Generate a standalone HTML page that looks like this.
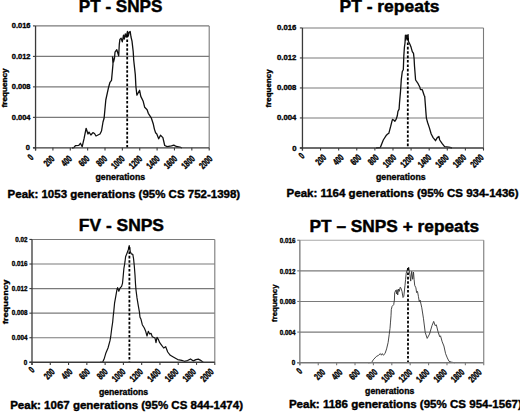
<!DOCTYPE html>
<html><head><meta charset="utf-8"><title>Histograms</title>
<style>
html,body{margin:0;padding:0;background:#fff;}
body{width:520px;height:412px;overflow:hidden;}
svg{display:block;font-family:"Liberation Sans", sans-serif;}
</style></head>
<body>
<svg width="520" height="412" viewBox="0 0 520 412" fill="#000">
<rect width="520" height="412" fill="#fff"/>
<line x1="35.55" y1="117.36" x2="209.2" y2="117.36" stroke="#7a7a7a" stroke-width="1.1"/>
<line x1="35.55" y1="86.88" x2="209.2" y2="86.88" stroke="#7a7a7a" stroke-width="1.1"/>
<line x1="35.55" y1="56.39" x2="209.2" y2="56.39" stroke="#7a7a7a" stroke-width="1.1"/>
<line x1="35.55" y1="25.9" x2="209.2" y2="25.9" stroke="#7a7a7a" stroke-width="1.1"/>
<line x1="209.2" y1="25.9" x2="209.2" y2="147.85" stroke="#7a7a7a" stroke-width="1.1"/>
<polyline points="72,148 74,147.5 75.4,145.7 78.8,145.4 80.4,143.3 82.2,146.7 84.1,138.4 86.1,128.3 88,134 89,132.1 90.9,135 92.9,132.6 94.5,133.5 96,136 98,135 100,134 101.5,131 103,122 104.1,118.2 105.8,100 108.6,87.2 110,82.3 111.5,80.4 112.3,71.7 113,63.9 112.5,57 113.5,62 114.5,58 115,52.2 116.8,49.7 118.7,55.8 119.3,44.3 119.9,39.4 121.1,38.2 122.3,41.8 123.5,35.2 124.3,39 125.3,34 126.2,37 127.5,31.5 128.3,36 129.2,32 130.2,31.5 131,37 132,41.2 133.2,51.5 133.7,60 135.3,74.6 135.9,86.5 136.9,95.2 139.6,90.3 140.8,96.4 143.2,101.3 144.7,107.3 147.1,109.7 148.3,113.3 151.4,118.2 153.2,123.7 154.4,129.1 155.6,132.8 156.8,134 158.7,138.8 160.5,135.2 162.9,137.6 164.7,145.5 167.2,146.7 171.4,145.8 173.8,145.1 176.3,146.5 179.9,147.1 182,148" fill="none" stroke="#111" stroke-width="1.3" stroke-linejoin="round"/>
<line x1="127.2" y1="35" x2="127.2" y2="147.85" stroke="#000" stroke-width="1.8" stroke-dasharray="2.6 1.8"/>
<line x1="35.55" y1="25.9" x2="35.55" y2="150.45" stroke="#3a3a3a" stroke-width="1.3"/>
<line x1="32.95" y1="147.85" x2="209.2" y2="147.85" stroke="#3a3a3a" stroke-width="1.4"/>
<line x1="32.95" y1="147.85" x2="35.55" y2="147.85" stroke="#3a3a3a" stroke-width="1.1"/>
<line x1="32.95" y1="117.36" x2="35.55" y2="117.36" stroke="#3a3a3a" stroke-width="1.1"/>
<line x1="32.95" y1="86.88" x2="35.55" y2="86.88" stroke="#3a3a3a" stroke-width="1.1"/>
<line x1="32.95" y1="56.39" x2="35.55" y2="56.39" stroke="#3a3a3a" stroke-width="1.1"/>
<line x1="32.95" y1="25.9" x2="35.55" y2="25.9" stroke="#3a3a3a" stroke-width="1.1"/>
<line x1="35.55" y1="147.85" x2="35.55" y2="150.45" stroke="#3a3a3a" stroke-width="1.1"/>
<line x1="52.91" y1="147.85" x2="52.91" y2="150.45" stroke="#3a3a3a" stroke-width="1.1"/>
<line x1="70.28" y1="147.85" x2="70.28" y2="150.45" stroke="#3a3a3a" stroke-width="1.1"/>
<line x1="87.64" y1="147.85" x2="87.64" y2="150.45" stroke="#3a3a3a" stroke-width="1.1"/>
<line x1="105.01" y1="147.85" x2="105.01" y2="150.45" stroke="#3a3a3a" stroke-width="1.1"/>
<line x1="122.37" y1="147.85" x2="122.37" y2="150.45" stroke="#3a3a3a" stroke-width="1.1"/>
<line x1="139.74" y1="147.85" x2="139.74" y2="150.45" stroke="#3a3a3a" stroke-width="1.1"/>
<line x1="157.1" y1="147.85" x2="157.1" y2="150.45" stroke="#3a3a3a" stroke-width="1.1"/>
<line x1="174.47" y1="147.85" x2="174.47" y2="150.45" stroke="#3a3a3a" stroke-width="1.1"/>
<line x1="191.83" y1="147.85" x2="191.83" y2="150.45" stroke="#3a3a3a" stroke-width="1.1"/>
<line x1="209.2" y1="147.85" x2="209.2" y2="150.45" stroke="#3a3a3a" stroke-width="1.1"/>
<text transform="translate(27.9,147.3) scale(0.94,1)" x="0" y="0" dy="0.36em" text-anchor="middle" font-size="8" font-weight="bold" stroke="#000" stroke-width="0.35" stroke-linejoin="round">0</text>
<text transform="translate(30.5,116.66) scale(0.94,1)" x="0" y="0" dy="0.36em" text-anchor="end" font-size="8" font-weight="bold" stroke="#000" stroke-width="0.35" stroke-linejoin="round">0.004</text>
<text transform="translate(30.5,86.17) scale(0.94,1)" x="0" y="0" dy="0.36em" text-anchor="end" font-size="8" font-weight="bold" stroke="#000" stroke-width="0.35" stroke-linejoin="round">0.008</text>
<text transform="translate(30.5,55.69) scale(0.94,1)" x="0" y="0" dy="0.36em" text-anchor="end" font-size="8" font-weight="bold" stroke="#000" stroke-width="0.35" stroke-linejoin="round">0.012</text>
<text transform="translate(30.5,25.2) scale(0.94,1)" x="0" y="0" dy="0.36em" text-anchor="end" font-size="8" font-weight="bold" stroke="#000" stroke-width="0.35" stroke-linejoin="round">0.016</text>
<text transform="translate(30.4,157.1) rotate(-45) scale(0.68,1)" x="0" y="0" dy="0.36em" text-anchor="middle" font-size="9.5" font-weight="bold" stroke="#000" stroke-width="0.45" stroke-linejoin="round">0</text>
<text transform="translate(52.56,156.95) rotate(-45) scale(0.68,1)" x="0" y="0" dy="0.36em" text-anchor="end" font-size="9.5" font-weight="bold" stroke="#000" stroke-width="0.45" stroke-linejoin="round">200</text>
<text transform="translate(70.12,156.95) rotate(-45) scale(0.68,1)" x="0" y="0" dy="0.36em" text-anchor="end" font-size="9.5" font-weight="bold" stroke="#000" stroke-width="0.45" stroke-linejoin="round">400</text>
<text transform="translate(87.68,156.95) rotate(-45) scale(0.68,1)" x="0" y="0" dy="0.36em" text-anchor="end" font-size="9.5" font-weight="bold" stroke="#000" stroke-width="0.45" stroke-linejoin="round">600</text>
<text transform="translate(105.24,156.95) rotate(-45) scale(0.68,1)" x="0" y="0" dy="0.36em" text-anchor="end" font-size="9.5" font-weight="bold" stroke="#000" stroke-width="0.45" stroke-linejoin="round">800</text>
<text transform="translate(122.8,156.95) rotate(-45) scale(0.68,1)" x="0" y="0" dy="0.36em" text-anchor="end" font-size="9.5" font-weight="bold" stroke="#000" stroke-width="0.45" stroke-linejoin="round">1000</text>
<text transform="translate(140.36,156.95) rotate(-45) scale(0.68,1)" x="0" y="0" dy="0.36em" text-anchor="end" font-size="9.5" font-weight="bold" stroke="#000" stroke-width="0.45" stroke-linejoin="round">1200</text>
<text transform="translate(157.92,156.95) rotate(-45) scale(0.68,1)" x="0" y="0" dy="0.36em" text-anchor="end" font-size="9.5" font-weight="bold" stroke="#000" stroke-width="0.45" stroke-linejoin="round">1400</text>
<text transform="translate(175.48,156.95) rotate(-45) scale(0.68,1)" x="0" y="0" dy="0.36em" text-anchor="end" font-size="9.5" font-weight="bold" stroke="#000" stroke-width="0.45" stroke-linejoin="round">1600</text>
<text transform="translate(193.04,156.95) rotate(-45) scale(0.68,1)" x="0" y="0" dy="0.36em" text-anchor="end" font-size="9.5" font-weight="bold" stroke="#000" stroke-width="0.45" stroke-linejoin="round">1800</text>
<text transform="translate(210.6,156.95) rotate(-45) scale(0.68,1)" x="0" y="0" dy="0.36em" text-anchor="end" font-size="9.5" font-weight="bold" stroke="#000" stroke-width="0.45" stroke-linejoin="round">2000</text>
<text x="78.8" y="12.3" font-size="17" font-weight="bold" textLength="83.6" lengthAdjust="spacingAndGlyphs" stroke="#000" stroke-width="0.45" stroke-linejoin="round">PT - SNPS</text>
<text transform="translate(4.9,87.9) rotate(-90)" x="0" y="0" dy="0.3em" text-anchor="middle" font-size="7" font-weight="bold" textLength="39" lengthAdjust="spacingAndGlyphs" stroke="#000" stroke-width="0.35" stroke-linejoin="round">frequency</text>
<text x="95.5" y="180.1" font-size="8.5" font-weight="bold" textLength="49.6" lengthAdjust="spacingAndGlyphs" stroke="#000" stroke-width="0.35" stroke-linejoin="round">generations</text>
<text x="7.6" y="198.3" font-size="11.4" font-weight="bold" textLength="232.6" lengthAdjust="spacingAndGlyphs" stroke="#000" stroke-width="0.4" stroke-linejoin="round">Peak: 1053 generations (95% CS 752-1398)</text>
<line x1="302.45" y1="117.95" x2="483.5" y2="117.95" stroke="#7a7a7a" stroke-width="1.1"/>
<line x1="302.45" y1="87.95" x2="483.5" y2="87.95" stroke="#7a7a7a" stroke-width="1.1"/>
<line x1="302.45" y1="57.95" x2="483.5" y2="57.95" stroke="#7a7a7a" stroke-width="1.1"/>
<line x1="302.45" y1="27.95" x2="483.5" y2="27.95" stroke="#7a7a7a" stroke-width="1.1"/>
<line x1="483.5" y1="27.95" x2="483.5" y2="147.95" stroke="#7a7a7a" stroke-width="1.1"/>
<polyline points="376,148 380.3,147.5 383.3,140 386.4,135.2 387.6,134 388.8,133.4 390.6,126.7 391.8,121.8 392.5,119.4 393.7,120 394.9,121.2 396.1,119.4 397.3,115.8 397.9,111.5 399.1,109.1 399.5,103 400.5,91.6 401.3,79.4 402.3,71.5 403.3,69.7 403.8,56.4 404.4,47.3 405,43 405.4,35.2 405.9,40 406.8,35.2 407.5,38.8 408.1,34.6 408.4,41.2 409.9,44.3 411.1,47.3 412.3,51.6 413.5,53.4 414.1,58.8 414.5,66 415.6,80 418.1,83.7 419.9,87.3 420.5,89.7 422.3,89.7 424.1,95.2 424.7,96.4 425.3,104 425.8,110.9 426.4,118.2 427.6,122.5 429.4,127.9 431.2,134 433.1,137.6 435.5,140.7 437.3,137.6 438.9,136.4 439.7,140 442.2,143.7 444.6,146.7 448.8,147.1 452,148" fill="none" stroke="#111" stroke-width="1.3" stroke-linejoin="round"/>
<line x1="407.8" y1="38" x2="407.8" y2="147.95" stroke="#000" stroke-width="1.8" stroke-dasharray="2.6 1.8"/>
<line x1="302.45" y1="27.95" x2="302.45" y2="150.55" stroke="#3a3a3a" stroke-width="1.3"/>
<line x1="299.85" y1="147.95" x2="483.5" y2="147.95" stroke="#3a3a3a" stroke-width="1.4"/>
<line x1="299.85" y1="147.95" x2="302.45" y2="147.95" stroke="#3a3a3a" stroke-width="1.1"/>
<line x1="299.85" y1="117.95" x2="302.45" y2="117.95" stroke="#3a3a3a" stroke-width="1.1"/>
<line x1="299.85" y1="87.95" x2="302.45" y2="87.95" stroke="#3a3a3a" stroke-width="1.1"/>
<line x1="299.85" y1="57.95" x2="302.45" y2="57.95" stroke="#3a3a3a" stroke-width="1.1"/>
<line x1="299.85" y1="27.95" x2="302.45" y2="27.95" stroke="#3a3a3a" stroke-width="1.1"/>
<line x1="302.45" y1="147.95" x2="302.45" y2="150.55" stroke="#3a3a3a" stroke-width="1.1"/>
<line x1="320.56" y1="147.95" x2="320.56" y2="150.55" stroke="#3a3a3a" stroke-width="1.1"/>
<line x1="338.66" y1="147.95" x2="338.66" y2="150.55" stroke="#3a3a3a" stroke-width="1.1"/>
<line x1="356.76" y1="147.95" x2="356.76" y2="150.55" stroke="#3a3a3a" stroke-width="1.1"/>
<line x1="374.87" y1="147.95" x2="374.87" y2="150.55" stroke="#3a3a3a" stroke-width="1.1"/>
<line x1="392.98" y1="147.95" x2="392.98" y2="150.55" stroke="#3a3a3a" stroke-width="1.1"/>
<line x1="411.08" y1="147.95" x2="411.08" y2="150.55" stroke="#3a3a3a" stroke-width="1.1"/>
<line x1="429.19" y1="147.95" x2="429.19" y2="150.55" stroke="#3a3a3a" stroke-width="1.1"/>
<line x1="447.29" y1="147.95" x2="447.29" y2="150.55" stroke="#3a3a3a" stroke-width="1.1"/>
<line x1="465.39" y1="147.95" x2="465.39" y2="150.55" stroke="#3a3a3a" stroke-width="1.1"/>
<line x1="483.5" y1="147.95" x2="483.5" y2="150.55" stroke="#3a3a3a" stroke-width="1.1"/>
<text transform="translate(294.4,147.7) scale(0.97,1)" x="0" y="0" dy="0.36em" text-anchor="middle" font-size="8" font-weight="bold" stroke="#000" stroke-width="0.35" stroke-linejoin="round">0</text>
<text transform="translate(296.4,117.15) scale(0.97,1)" x="0" y="0" dy="0.36em" text-anchor="end" font-size="8" font-weight="bold" stroke="#000" stroke-width="0.35" stroke-linejoin="round">0.004</text>
<text transform="translate(296.4,87.15) scale(0.97,1)" x="0" y="0" dy="0.36em" text-anchor="end" font-size="8" font-weight="bold" stroke="#000" stroke-width="0.35" stroke-linejoin="round">0.008</text>
<text transform="translate(296.4,57.15) scale(0.97,1)" x="0" y="0" dy="0.36em" text-anchor="end" font-size="8" font-weight="bold" stroke="#000" stroke-width="0.35" stroke-linejoin="round">0.012</text>
<text transform="translate(296.4,27.15) scale(0.97,1)" x="0" y="0" dy="0.36em" text-anchor="end" font-size="8" font-weight="bold" stroke="#000" stroke-width="0.35" stroke-linejoin="round">0.016</text>
<text transform="translate(301.25,155.5) rotate(-45) scale(0.68,1)" x="0" y="0" dy="0.36em" text-anchor="middle" font-size="9.5" font-weight="bold" stroke="#000" stroke-width="0.45" stroke-linejoin="round">0</text>
<text transform="translate(324.4,155.75) rotate(-45) scale(0.68,1)" x="0" y="0" dy="0.36em" text-anchor="end" font-size="9.5" font-weight="bold" stroke="#000" stroke-width="0.45" stroke-linejoin="round">200</text>
<text transform="translate(341.9,155.75) rotate(-45) scale(0.68,1)" x="0" y="0" dy="0.36em" text-anchor="end" font-size="9.5" font-weight="bold" stroke="#000" stroke-width="0.45" stroke-linejoin="round">400</text>
<text transform="translate(359.4,155.75) rotate(-45) scale(0.68,1)" x="0" y="0" dy="0.36em" text-anchor="end" font-size="9.5" font-weight="bold" stroke="#000" stroke-width="0.45" stroke-linejoin="round">600</text>
<text transform="translate(376.9,155.75) rotate(-45) scale(0.68,1)" x="0" y="0" dy="0.36em" text-anchor="end" font-size="9.5" font-weight="bold" stroke="#000" stroke-width="0.45" stroke-linejoin="round">800</text>
<text transform="translate(394.4,155.75) rotate(-45) scale(0.68,1)" x="0" y="0" dy="0.36em" text-anchor="end" font-size="9.5" font-weight="bold" stroke="#000" stroke-width="0.45" stroke-linejoin="round">1000</text>
<text transform="translate(411.9,155.75) rotate(-45) scale(0.68,1)" x="0" y="0" dy="0.36em" text-anchor="end" font-size="9.5" font-weight="bold" stroke="#000" stroke-width="0.45" stroke-linejoin="round">1200</text>
<text transform="translate(429.4,155.75) rotate(-45) scale(0.68,1)" x="0" y="0" dy="0.36em" text-anchor="end" font-size="9.5" font-weight="bold" stroke="#000" stroke-width="0.45" stroke-linejoin="round">1400</text>
<text transform="translate(446.9,155.75) rotate(-45) scale(0.68,1)" x="0" y="0" dy="0.36em" text-anchor="end" font-size="9.5" font-weight="bold" stroke="#000" stroke-width="0.45" stroke-linejoin="round">1600</text>
<text transform="translate(464.4,155.75) rotate(-45) scale(0.68,1)" x="0" y="0" dy="0.36em" text-anchor="end" font-size="9.5" font-weight="bold" stroke="#000" stroke-width="0.45" stroke-linejoin="round">1800</text>
<text transform="translate(481.9,155.75) rotate(-45) scale(0.68,1)" x="0" y="0" dy="0.36em" text-anchor="end" font-size="9.5" font-weight="bold" stroke="#000" stroke-width="0.45" stroke-linejoin="round">2000</text>
<text x="339.5" y="12" font-size="17" font-weight="bold" textLength="99.9" lengthAdjust="spacingAndGlyphs" stroke="#000" stroke-width="0.45" stroke-linejoin="round">PT - repeats</text>
<text transform="translate(268.8,88.4) rotate(-90)" x="0" y="0" dy="0.3em" text-anchor="middle" font-size="7" font-weight="bold" textLength="38" lengthAdjust="spacingAndGlyphs" stroke="#000" stroke-width="0.35" stroke-linejoin="round">frequency</text>
<text x="375.9" y="180.4" font-size="8.5" font-weight="bold" textLength="49.8" lengthAdjust="spacingAndGlyphs" stroke="#000" stroke-width="0.35" stroke-linejoin="round">generations</text>
<text x="286.6" y="197.2" font-size="11.4" font-weight="bold" textLength="232" lengthAdjust="spacingAndGlyphs" stroke="#000" stroke-width="0.4" stroke-linejoin="round">Peak: 1164 generations (95% CS 934-1436)</text>
<line x1="32" y1="337.73" x2="214.8" y2="337.73" stroke="#7a7a7a" stroke-width="1.1"/>
<line x1="32" y1="313.16" x2="214.8" y2="313.16" stroke="#7a7a7a" stroke-width="1.1"/>
<line x1="32" y1="288.59" x2="214.8" y2="288.59" stroke="#7a7a7a" stroke-width="1.1"/>
<line x1="32" y1="264.02" x2="214.8" y2="264.02" stroke="#7a7a7a" stroke-width="1.1"/>
<line x1="32" y1="239.45" x2="214.8" y2="239.45" stroke="#7a7a7a" stroke-width="1.1"/>
<line x1="214.8" y1="239.45" x2="214.8" y2="362.3" stroke="#7a7a7a" stroke-width="1.1"/>
<polyline points="100,362.3 102.7,362 104,359.3 106,352.7 108,348 110,340.7 110.7,336.7 111.7,328.7 112.7,322 113.3,315.3 113.6,313.1 114.6,302.8 115.5,297.9 117,289.4 117.6,287.6 118.8,291.2 120,288.2 121.6,286.4 122.5,283.3 123.1,277.3 123.9,268.3 124.5,265 125,261.7 125.6,256.8 127,253.2 128.3,249.7 129.2,245.6 130.3,251.7 131.4,253.9 132.8,254.3 133.6,259 134.3,266 135,275 135.5,284 136,290 137,297.9 138.2,305.2 139.4,311.9 140,317.3 141,319.3 142.3,324.7 144.3,328 145.7,331.3 147,336 148.3,331.3 149.7,334 151,333.3 152.3,336.7 155,338 156,342.7 157,337.3 158.3,339.3 159.7,342.7 161.7,345.3 163.7,348 165.7,346.7 167.7,352 170.3,355.3 173.7,357.3 177.7,359.6 181.7,360.4 184.3,361.3 187.6,360.6 190.5,358.9 193.4,360.9 195.9,359.6 198.3,359.1 200.2,360.1 202.2,361.6 203.2,362.3" fill="none" stroke="#111" stroke-width="1.2" stroke-linejoin="round"/>
<line x1="129.4" y1="247" x2="129.4" y2="362.3" stroke="#000" stroke-width="1.8" stroke-dasharray="2.6 1.8"/>
<line x1="32" y1="239.45" x2="32" y2="364.9" stroke="#3a3a3a" stroke-width="1.3"/>
<line x1="29.4" y1="362.3" x2="214.8" y2="362.3" stroke="#3a3a3a" stroke-width="1.4"/>
<line x1="29.4" y1="362.3" x2="32" y2="362.3" stroke="#3a3a3a" stroke-width="1.1"/>
<line x1="29.4" y1="337.73" x2="32" y2="337.73" stroke="#3a3a3a" stroke-width="1.1"/>
<line x1="29.4" y1="313.16" x2="32" y2="313.16" stroke="#3a3a3a" stroke-width="1.1"/>
<line x1="29.4" y1="288.59" x2="32" y2="288.59" stroke="#3a3a3a" stroke-width="1.1"/>
<line x1="29.4" y1="264.02" x2="32" y2="264.02" stroke="#3a3a3a" stroke-width="1.1"/>
<line x1="29.4" y1="239.45" x2="32" y2="239.45" stroke="#3a3a3a" stroke-width="1.1"/>
<line x1="32" y1="362.3" x2="32" y2="364.9" stroke="#3a3a3a" stroke-width="1.1"/>
<line x1="50.28" y1="362.3" x2="50.28" y2="364.9" stroke="#3a3a3a" stroke-width="1.1"/>
<line x1="68.56" y1="362.3" x2="68.56" y2="364.9" stroke="#3a3a3a" stroke-width="1.1"/>
<line x1="86.84" y1="362.3" x2="86.84" y2="364.9" stroke="#3a3a3a" stroke-width="1.1"/>
<line x1="105.12" y1="362.3" x2="105.12" y2="364.9" stroke="#3a3a3a" stroke-width="1.1"/>
<line x1="123.4" y1="362.3" x2="123.4" y2="364.9" stroke="#3a3a3a" stroke-width="1.1"/>
<line x1="141.68" y1="362.3" x2="141.68" y2="364.9" stroke="#3a3a3a" stroke-width="1.1"/>
<line x1="159.96" y1="362.3" x2="159.96" y2="364.9" stroke="#3a3a3a" stroke-width="1.1"/>
<line x1="178.24" y1="362.3" x2="178.24" y2="364.9" stroke="#3a3a3a" stroke-width="1.1"/>
<line x1="196.52" y1="362.3" x2="196.52" y2="364.9" stroke="#3a3a3a" stroke-width="1.1"/>
<line x1="214.8" y1="362.3" x2="214.8" y2="364.9" stroke="#3a3a3a" stroke-width="1.1"/>
<text transform="translate(25.6,362) scale(0.84,1)" x="0" y="0" dy="0.36em" text-anchor="middle" font-size="7.5" font-weight="bold" stroke="#000" stroke-width="0.35" stroke-linejoin="round">0</text>
<text transform="translate(27.4,337.13) scale(0.84,1)" x="0" y="0" dy="0.36em" text-anchor="end" font-size="7.5" font-weight="bold" stroke="#000" stroke-width="0.35" stroke-linejoin="round">0.004</text>
<text transform="translate(27.4,312.56) scale(0.84,1)" x="0" y="0" dy="0.36em" text-anchor="end" font-size="7.5" font-weight="bold" stroke="#000" stroke-width="0.35" stroke-linejoin="round">0.008</text>
<text transform="translate(27.4,287.99) scale(0.84,1)" x="0" y="0" dy="0.36em" text-anchor="end" font-size="7.5" font-weight="bold" stroke="#000" stroke-width="0.35" stroke-linejoin="round">0.012</text>
<text transform="translate(27.4,263.42) scale(0.84,1)" x="0" y="0" dy="0.36em" text-anchor="end" font-size="7.5" font-weight="bold" stroke="#000" stroke-width="0.35" stroke-linejoin="round">0.016</text>
<text transform="translate(27.4,238.85) scale(0.84,1)" x="0" y="0" dy="0.36em" text-anchor="end" font-size="7.5" font-weight="bold" stroke="#000" stroke-width="0.35" stroke-linejoin="round">0.02</text>
<text transform="translate(31.25,369.6) rotate(-45) scale(0.68,1)" x="0" y="0" dy="0.36em" text-anchor="middle" font-size="9.5" font-weight="bold" stroke="#000" stroke-width="0.45" stroke-linejoin="round">0</text>
<text transform="translate(52.87,369.95) rotate(-45) scale(0.68,1)" x="0" y="0" dy="0.36em" text-anchor="end" font-size="9.5" font-weight="bold" stroke="#000" stroke-width="0.45" stroke-linejoin="round">200</text>
<text transform="translate(70.54,369.95) rotate(-45) scale(0.68,1)" x="0" y="0" dy="0.36em" text-anchor="end" font-size="9.5" font-weight="bold" stroke="#000" stroke-width="0.45" stroke-linejoin="round">400</text>
<text transform="translate(88.21,369.95) rotate(-45) scale(0.68,1)" x="0" y="0" dy="0.36em" text-anchor="end" font-size="9.5" font-weight="bold" stroke="#000" stroke-width="0.45" stroke-linejoin="round">600</text>
<text transform="translate(105.88,369.95) rotate(-45) scale(0.68,1)" x="0" y="0" dy="0.36em" text-anchor="end" font-size="9.5" font-weight="bold" stroke="#000" stroke-width="0.45" stroke-linejoin="round">800</text>
<text transform="translate(123.55,369.95) rotate(-45) scale(0.68,1)" x="0" y="0" dy="0.36em" text-anchor="end" font-size="9.5" font-weight="bold" stroke="#000" stroke-width="0.45" stroke-linejoin="round">1000</text>
<text transform="translate(141.22,369.95) rotate(-45) scale(0.68,1)" x="0" y="0" dy="0.36em" text-anchor="end" font-size="9.5" font-weight="bold" stroke="#000" stroke-width="0.45" stroke-linejoin="round">1200</text>
<text transform="translate(158.89,369.95) rotate(-45) scale(0.68,1)" x="0" y="0" dy="0.36em" text-anchor="end" font-size="9.5" font-weight="bold" stroke="#000" stroke-width="0.45" stroke-linejoin="round">1400</text>
<text transform="translate(176.56,369.95) rotate(-45) scale(0.68,1)" x="0" y="0" dy="0.36em" text-anchor="end" font-size="9.5" font-weight="bold" stroke="#000" stroke-width="0.45" stroke-linejoin="round">1600</text>
<text transform="translate(194.23,369.95) rotate(-45) scale(0.68,1)" x="0" y="0" dy="0.36em" text-anchor="end" font-size="9.5" font-weight="bold" stroke="#000" stroke-width="0.45" stroke-linejoin="round">1800</text>
<text transform="translate(211.9,369.95) rotate(-45) scale(0.68,1)" x="0" y="0" dy="0.36em" text-anchor="end" font-size="9.5" font-weight="bold" stroke="#000" stroke-width="0.45" stroke-linejoin="round">2000</text>
<text x="78.8" y="231.2" font-size="17" font-weight="bold" textLength="85.2" lengthAdjust="spacingAndGlyphs" stroke="#000" stroke-width="0.45" stroke-linejoin="round">FV - SNPS</text>
<text transform="translate(5.3,302) rotate(-90)" x="0" y="0" dy="0.3em" text-anchor="middle" font-size="7.5" font-weight="bold" textLength="44.7" lengthAdjust="spacingAndGlyphs" stroke="#000" stroke-width="0.35" stroke-linejoin="round">frequency</text>
<text x="98.9" y="394.6" font-size="8.5" font-weight="bold" textLength="49.3" lengthAdjust="spacingAndGlyphs" stroke="#000" stroke-width="0.35" stroke-linejoin="round">generations</text>
<text x="10.2" y="409.2" font-size="11.4" font-weight="bold" textLength="232.8" lengthAdjust="spacingAndGlyphs" stroke="#000" stroke-width="0.4" stroke-linejoin="round">Peak: 1067 generations (95% CS 844-1474)</text>
<line x1="299.85" y1="332.09" x2="483.75" y2="332.09" stroke="#7a7a7a" stroke-width="1.1"/>
<line x1="299.85" y1="301.48" x2="483.75" y2="301.48" stroke="#7a7a7a" stroke-width="1.1"/>
<line x1="299.85" y1="270.86" x2="483.75" y2="270.86" stroke="#7a7a7a" stroke-width="1.1"/>
<line x1="299.85" y1="240.25" x2="483.75" y2="240.25" stroke="#a8a8a8" stroke-width="1.1"/>
<line x1="483.75" y1="240.25" x2="483.75" y2="362.7" stroke="#7a7a7a" stroke-width="1.1"/>
<polyline points="368,362.8 371.6,362.5 373.2,359.9 376.3,356.5 378.7,355.2 380.3,353.6 381.4,355.2 382.3,353.6 383.4,355.2 385,353.6 386.6,348.9 388.1,342.6 389.2,334.7 390,328.4 390.5,322.1 391,315.8 391.3,309.5 392.1,306.3 393.7,304.7 394.4,300 394.7,292.6 395.9,290.2 396.5,293.8 397.1,289.6 397.7,295 398.6,289 399.3,291.4 400.2,287.2 400.8,287.8 402,291.4 403,297.5 403.8,296.3 405,285.3 405.6,279.3 406.2,273.2 407.5,269 408.7,267.1 409.9,274.4 410.7,281.1 411.7,271.4 412.7,279.3 413.5,272 414.1,279.3 414.7,285.3 415.9,287.8 416.6,292.6 417.5,291.4 418.4,296.3 419.3,301.8 420.1,300.1 421.8,307.8 423.5,318.8 425.2,332.4 427.2,338.4 429.5,334.1 432,325.6 433.7,321.4 435.1,325.6 436.3,324.8 438,331.6 439.7,336.7 440.5,335.8 442.2,341.8 443.9,346 445.6,353.7 447.3,357.9 449,361.3 451.6,362.2 455,362.8" fill="none" stroke="#333" stroke-width="0.9" stroke-linejoin="round"/>
<line x1="408" y1="268" x2="408" y2="362.7" stroke="#000" stroke-width="1.8" stroke-dasharray="2.6 1.8"/>
<line x1="299.85" y1="240.25" x2="299.85" y2="365.3" stroke="#777" stroke-width="1.3"/>
<line x1="297.25" y1="362.7" x2="483.75" y2="362.7" stroke="#777" stroke-width="1.4"/>
<line x1="297.25" y1="362.7" x2="299.85" y2="362.7" stroke="#777" stroke-width="1.1"/>
<line x1="297.25" y1="332.09" x2="299.85" y2="332.09" stroke="#777" stroke-width="1.1"/>
<line x1="297.25" y1="301.48" x2="299.85" y2="301.48" stroke="#777" stroke-width="1.1"/>
<line x1="297.25" y1="270.86" x2="299.85" y2="270.86" stroke="#777" stroke-width="1.1"/>
<line x1="297.25" y1="240.25" x2="299.85" y2="240.25" stroke="#777" stroke-width="1.1"/>
<line x1="299.85" y1="362.7" x2="299.85" y2="365.3" stroke="#777" stroke-width="1.1"/>
<line x1="318.24" y1="362.7" x2="318.24" y2="365.3" stroke="#777" stroke-width="1.1"/>
<line x1="336.63" y1="362.7" x2="336.63" y2="365.3" stroke="#777" stroke-width="1.1"/>
<line x1="355.02" y1="362.7" x2="355.02" y2="365.3" stroke="#777" stroke-width="1.1"/>
<line x1="373.41" y1="362.7" x2="373.41" y2="365.3" stroke="#777" stroke-width="1.1"/>
<line x1="391.8" y1="362.7" x2="391.8" y2="365.3" stroke="#777" stroke-width="1.1"/>
<line x1="410.19" y1="362.7" x2="410.19" y2="365.3" stroke="#777" stroke-width="1.1"/>
<line x1="428.58" y1="362.7" x2="428.58" y2="365.3" stroke="#777" stroke-width="1.1"/>
<line x1="446.97" y1="362.7" x2="446.97" y2="365.3" stroke="#777" stroke-width="1.1"/>
<line x1="465.36" y1="362.7" x2="465.36" y2="365.3" stroke="#777" stroke-width="1.1"/>
<line x1="483.75" y1="362.7" x2="483.75" y2="365.3" stroke="#777" stroke-width="1.1"/>
<text transform="translate(293.6,362.4) scale(0.84,1)" x="0" y="0" dy="0.36em" text-anchor="middle" font-size="7.5" font-weight="bold" stroke="#000" stroke-width="0.35" stroke-linejoin="round">0</text>
<text transform="translate(295.6,332.29) scale(0.84,1)" x="0" y="0" dy="0.36em" text-anchor="end" font-size="7.5" font-weight="bold" stroke="#000" stroke-width="0.35" stroke-linejoin="round">0.004</text>
<text transform="translate(295.6,301.68) scale(0.84,1)" x="0" y="0" dy="0.36em" text-anchor="end" font-size="7.5" font-weight="bold" stroke="#000" stroke-width="0.35" stroke-linejoin="round">0.008</text>
<text transform="translate(295.6,271.06) scale(0.84,1)" x="0" y="0" dy="0.36em" text-anchor="end" font-size="7.5" font-weight="bold" stroke="#000" stroke-width="0.35" stroke-linejoin="round">0.012</text>
<text transform="translate(295.6,240.45) scale(0.84,1)" x="0" y="0" dy="0.36em" text-anchor="end" font-size="7.5" font-weight="bold" stroke="#000" stroke-width="0.35" stroke-linejoin="round">0.016</text>
<text transform="translate(299.1,370.8) rotate(-45) scale(0.68,1)" x="0" y="0" dy="0.36em" text-anchor="middle" font-size="9.5" font-weight="bold" stroke="#000" stroke-width="0.45" stroke-linejoin="round">0</text>
<text transform="translate(323.3,370.45) rotate(-45) scale(0.68,1)" x="0" y="0" dy="0.36em" text-anchor="end" font-size="9.5" font-weight="bold" stroke="#000" stroke-width="0.45" stroke-linejoin="round">200</text>
<text transform="translate(340.7,370.45) rotate(-45) scale(0.68,1)" x="0" y="0" dy="0.36em" text-anchor="end" font-size="9.5" font-weight="bold" stroke="#000" stroke-width="0.45" stroke-linejoin="round">400</text>
<text transform="translate(358.1,370.45) rotate(-45) scale(0.68,1)" x="0" y="0" dy="0.36em" text-anchor="end" font-size="9.5" font-weight="bold" stroke="#000" stroke-width="0.45" stroke-linejoin="round">600</text>
<text transform="translate(375.5,370.45) rotate(-45) scale(0.68,1)" x="0" y="0" dy="0.36em" text-anchor="end" font-size="9.5" font-weight="bold" stroke="#000" stroke-width="0.45" stroke-linejoin="round">800</text>
<text transform="translate(392.9,370.45) rotate(-45) scale(0.68,1)" x="0" y="0" dy="0.36em" text-anchor="end" font-size="9.5" font-weight="bold" stroke="#000" stroke-width="0.45" stroke-linejoin="round">1000</text>
<text transform="translate(410.3,370.45) rotate(-45) scale(0.68,1)" x="0" y="0" dy="0.36em" text-anchor="end" font-size="9.5" font-weight="bold" stroke="#000" stroke-width="0.45" stroke-linejoin="round">1200</text>
<text transform="translate(427.7,370.45) rotate(-45) scale(0.68,1)" x="0" y="0" dy="0.36em" text-anchor="end" font-size="9.5" font-weight="bold" stroke="#000" stroke-width="0.45" stroke-linejoin="round">1400</text>
<text transform="translate(445.1,370.45) rotate(-45) scale(0.68,1)" x="0" y="0" dy="0.36em" text-anchor="end" font-size="9.5" font-weight="bold" stroke="#000" stroke-width="0.45" stroke-linejoin="round">1600</text>
<text transform="translate(462.5,370.45) rotate(-45) scale(0.68,1)" x="0" y="0" dy="0.36em" text-anchor="end" font-size="9.5" font-weight="bold" stroke="#000" stroke-width="0.45" stroke-linejoin="round">1800</text>
<text transform="translate(479.9,370.45) rotate(-45) scale(0.68,1)" x="0" y="0" dy="0.36em" text-anchor="end" font-size="9.5" font-weight="bold" stroke="#000" stroke-width="0.45" stroke-linejoin="round">2000</text>
<text x="309.6" y="231.9" font-size="17" font-weight="bold" textLength="169.4" lengthAdjust="spacingAndGlyphs" stroke="#000" stroke-width="0.45" stroke-linejoin="round">PT – SNPS + repeats</text>
<text transform="translate(274.8,303.2) rotate(-90)" x="0" y="0" dy="0.3em" text-anchor="middle" font-size="7.5" font-weight="bold" textLength="37.4" lengthAdjust="spacingAndGlyphs" stroke="#000" stroke-width="0.35" stroke-linejoin="round">frequency</text>
<text x="365.1" y="394.2" font-size="8.5" font-weight="bold" textLength="49.2" lengthAdjust="spacingAndGlyphs" stroke="#000" stroke-width="0.35" stroke-linejoin="round">generations</text>
<text x="288.9" y="408.1" font-size="11.4" font-weight="bold" textLength="233" lengthAdjust="spacingAndGlyphs" stroke="#000" stroke-width="0.4" stroke-linejoin="round">Peak: 1186 generations (95% CS 954-1567)</text>
</svg>
</body></html>
